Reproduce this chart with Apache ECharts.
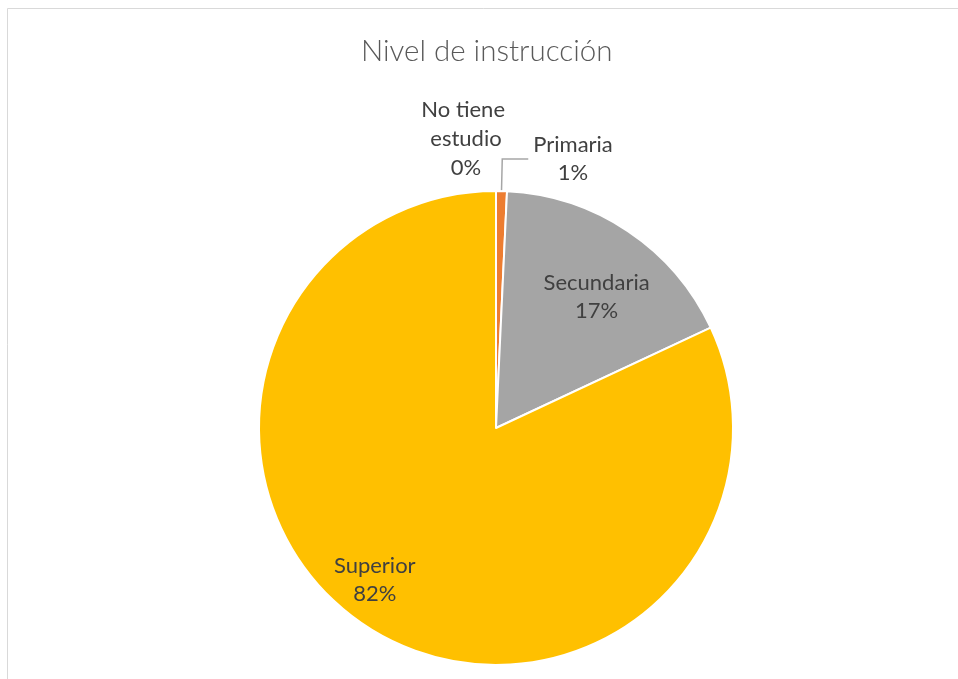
<!DOCTYPE html>
<html>
<head>
<meta charset="utf-8">
<title>Nivel de instrucción</title>
<script src="https://cdn.jsdelivr.net/npm/echarts@6/dist/echarts.min.js"></script>
<style>
  html, body { margin: 0; padding: 0; background: #ffffff; }
  #chart { width: 958px; height: 679px; }
</style>
</head>
<body>
<div id="chart"></div>
<script>
// Education level distribution (percent of respondents)
const categories = ['No tiene estudio', 'Primaria', 'Secundaria', 'Superior'];
const shares = [0, 0.74, 17.3, 81.96];
const colors = ['#5B9BD5', '#ED7D31', '#A5A5A5', '#FFC000'];

const FONT = 'Lato';
const LABEL_SIZE = 22;
const LABEL_COLOR = '#404040';
const PIE_CENTER = [496, 428];
const PIE_RADIUS = 237;

// per-slice label placement
const labelPlacement = [
  { position: 'inside' },
  { position: 'outside' },
  { position: 'inside', offset: [33, -30] },
  { position: 'inside', offset: [-56, 49] }
];

const pieData = categories.map((name, i) => ({
  name: name,
  value: shares[i],
  itemStyle: { color: colors[i] },
  label: labelPlacement[i],
  labelLine: { show: labelPlacement[i].position === 'outside' }
}));

// a zero-size slice gets no series label, so its caption is set above the pie top
const total = shares.reduce((a, b) => a + b, 0);
const zeroIdx = shares.findIndex(v => v === 0);
const zeroCaption = zeroIdx < 0 ? [] : [{
  type: 'text',
  x: PIE_CENTER[0] - 30,
  y: PIE_CENTER[1] - PIE_RADIUS - 52,
  silent: true,
  style: {
    text: categories[zeroIdx] + '\n' + Math.round(shares[zeroIdx] / total * 100) + '%',
    width: 100,
    overflow: 'break',
    align: 'center',
    verticalAlign: 'middle',
    fontFamily: FONT,
    fontSize: LABEL_SIZE,
    lineHeight: 29,
    fill: LABEL_COLOR
  }
}];

const chart = echarts.init(document.getElementById('chart'), null, { renderer: 'canvas' });

chart.setOption({
  backgroundColor: '#ffffff',
  animation: false,
  title: {
    text: 'Nivel de instrucción',
    left: 356,
    top: 31,
    textStyle: {
      fontFamily: FONT,
      fontWeight: 300,
      fontSize: 29.5,
      color: '#595959'
    }
  },
  graphic: [{
    type: 'rect',
    shape: { x: 7.5, y: 8.5, width: 980, height: 700 },
    style: { fill: 'none', stroke: '#d9d9d9', lineWidth: 1 },
    silent: true
  }].concat(zeroCaption),
  series: [{
    type: 'pie',
    center: PIE_CENTER,
    radius: PIE_RADIUS,
    startAngle: 90,
    clockwise: true,
    avoidLabelOverlap: false,
    percentPrecision: 0,
    itemStyle: { borderColor: '#ffffff', borderWidth: 2 },
    label: {
      fontFamily: FONT,
      fontSize: LABEL_SIZE,
      color: LABEL_COLOR,
      lineHeight: 28,
      distanceToLabelLine: 5,
      formatter: '{c|{b}}\n{c|{d}%}',
      rich: {
        c: { align: 'center', fontFamily: FONT, fontSize: LABEL_SIZE, color: LABEL_COLOR, lineHeight: 28 }
      }
    },
    labelLine: {
      length: 32,
      length2: 26,
      lineStyle: { color: '#a6a6a6', width: 1.5 }
    },
    emphasis: { disabled: true },
    data: pieData
  }]
});
</script>
</body>
</html>
